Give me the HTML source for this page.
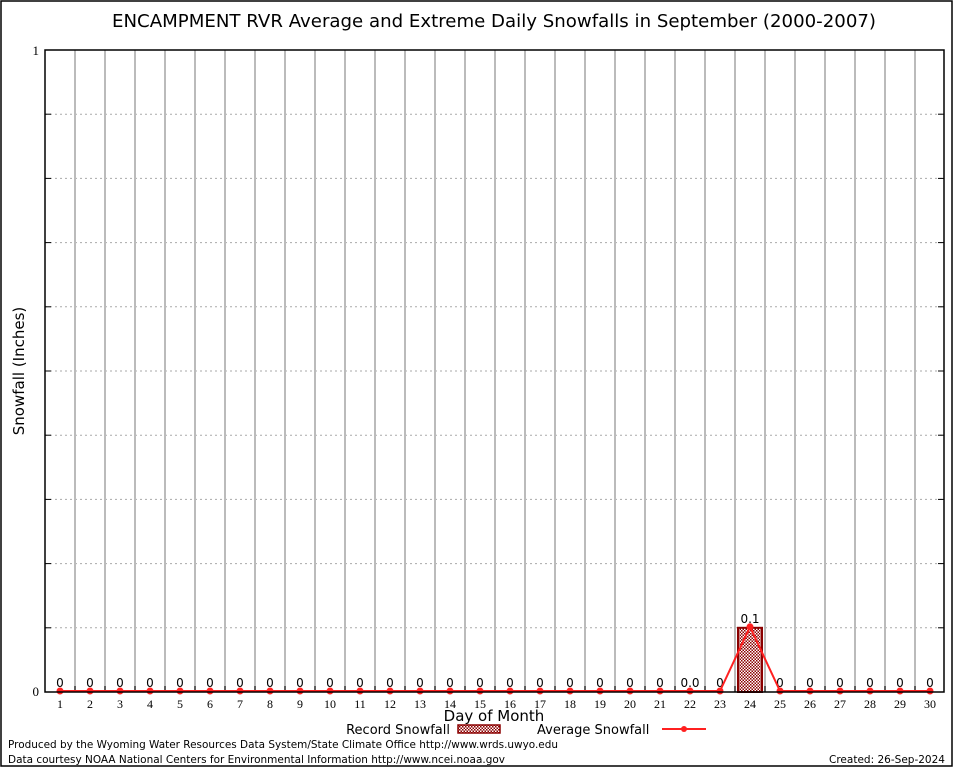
<!DOCTYPE html>
<html><head><meta charset="utf-8"><style>
body{margin:0;background:#fff}
svg{display:block;font-family:"DejaVu Sans","Liberation Sans",sans-serif}
</style></head><body>
<svg id="c" width="954" height="768">
<rect x="1" y="1" width="951" height="765" fill="#fff" stroke="#000" stroke-width="1.5"/>
<text x="494" y="27" font-size="18" text-anchor="middle" textLength="764" lengthAdjust="spacingAndGlyphs">ENCAMPMENT RVR Average and Extreme Daily Snowfalls in September (2000-2007)</text>
<g id="grid"></g>
<g id="marks"></g>
<rect x="45" y="50" width="899" height="642" fill="none" stroke="#000" stroke-width="1.5"/>
<text x="39" y="55" font-size="13" font-family="Liberation Serif,serif" text-anchor="end">1</text>
<text x="39" y="696" font-size="13" font-family="Liberation Serif,serif" text-anchor="end">0</text>
<text x="24" y="371" font-size="15" text-anchor="middle" transform="rotate(-90 24 371)">Snowfall (Inches)</text>
<text x="494" y="721" font-size="15" text-anchor="middle">Day of Month</text>
<g>
<text x="450" y="734" font-size="13" text-anchor="end">Record Snowfall</text>
<rect x="458" y="725" width="42" height="8" fill="url(#hatch)" stroke="#8b0000" stroke-width="1.5"/>
</g>
<g>
<text x="537" y="734" font-size="13">Average Snowfall</text>
<line x1="662" y1="729" x2="706" y2="729" stroke="#ff2020" stroke-width="2"/>
<circle cx="684" cy="729" r="3" fill="#ff2020"/>
</g>
<text x="8" y="748" font-size="11" textLength="550" lengthAdjust="spacingAndGlyphs">Produced by the Wyoming Water Resources Data System/State Climate Office http://www.wrds.uwyo.edu</text>
<text x="8" y="763" font-size="11" textLength="497" lengthAdjust="spacingAndGlyphs">Data courtesy NOAA National Centers for Environmental Information http://www.ncei.noaa.gov</text>
<text x="945" y="763" font-size="11" text-anchor="end" textLength="116" lengthAdjust="spacingAndGlyphs">Created: 26-Sep-2024</text>
<defs><pattern id="hatch" width="3" height="3" patternUnits="userSpaceOnUse"><rect width="3" height="3" fill="#fff"/><rect width="1.5" height="1.5" fill="#8b0000"/><rect x="1.5" y="1.5" width="1.5" height="1.5" fill="#8b0000"/></pattern></defs>
</svg>
<script>
const days=[1,2,3,4,5,6,7,8,9,10,11,12,13,14,15,16,17,18,19,20,21,22,23,24,25,26,27,28,29,30];
const recordVals=[0,0,0,0,0,0,0,0,0,0,0,0,0,0,0,0,0,0,0,0,0,0,0,0.1,0,0,0,0,0,0];
const recordLabels=["0","0","0","0","0","0","0","0","0","0","0","0","0","0","0","0","0","0","0","0","0","0.0","0","0.1","0","0","0","0","0","0"];
const avgVals=[0,0,0,0,0,0,0,0,0,0,0,0,0,0,0,0,0,0,0,0,0,0,0,0.1,0,0,0,0,0,0];
const yTicks=[0.1,0.2,0.3,0.4,0.5,0.6,0.7,0.8,0.9];
const NS='http://www.w3.org/2000/svg';
const X=d=>60+(d-1)*30, Y=v=>692-v*642;
function mk(t,a,p){const e=document.createElementNS(NS,t);for(const k in a)e.setAttribute(k,a[k]);p.appendChild(e);return e;}
const g=document.getElementById('grid'),m=document.getElementById('marks');
yTicks.forEach(v=>{const l=mk('line',{x1:45,x2:944,y1:Y(v),y2:Y(v),stroke:'#aaa','stroke-dasharray':'2,3'},g);


mk('line',{x1:45,x2:51,y1:Y(v),y2:Y(v),stroke:'#000'},g);mk('line',{x1:938,x2:944,y1:Y(v),y2:Y(v),stroke:'#000'},g);});
days.forEach((d,i)=>{
if(i<days.length-1){const l=mk('line',{x1:X(d)+15,x2:X(d)+15,y1:50,y2:692,stroke:'#bbb','stroke-width':2},g);


mk('line',{x1:X(d)+15,x2:X(d)+15,y1:686,y2:692,stroke:'#000'},g);}
const t=mk('text',{x:X(d),y:708,'font-size':12,'font-family':'Liberation Serif,serif','text-anchor':'middle'},g);t.textContent=d;


if(recordVals[i]>0){const b=mk('rect',{x:X(d)-12,y:Y(recordVals[i]),width:24,height:692-Y(recordVals[i]),fill:'url(#hatch)',stroke:'#8b0000','stroke-width':2},m);

}
const lb=mk('text',{x:X(d),y:Y(recordVals[i])-5,'font-size':12,'text-anchor':'middle'},m);lb.textContent=recordLabels[i];


});
const pl=mk('polyline',{points:days.map((d,i)=>X(d)+','+(Y(avgVals[i])-1)).join(' '),fill:'none',stroke:'#ff2020','stroke-width':2},m);


days.forEach((d,i)=>{const c=mk('circle',{cx:X(d),cy:Y(avgVals[i])-1,r:3.5,fill:'#ff2020'},m);

});
</script>
</body></html>
